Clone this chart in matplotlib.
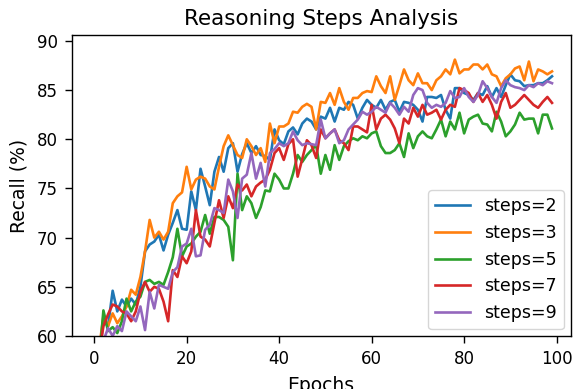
import matplotlib
matplotlib.use("Agg")
import matplotlib.pyplot as plt
import numpy as np

epochs = list(range(1, 100))

steps2 = [57.5, 61.5, 61.0, 64.6, 62.5, 63.7, 63.0, 63.8, 63.2, 65.0,
          68.6, 69.3, 69.6, 70.3, 68.7, 70.3, 71.5, 72.8, 70.9, 70.8,
          74.7, 72.8, 77.0, 75.2, 73.3, 76.7, 78.2, 76.7, 79.1, 79.6,
          76.7, 78.5, 79.6, 78.6, 79.3, 78.4, 78.3, 77.9, 81.0, 79.9,
          79.5, 80.8, 81.2, 80.5, 81.6, 82.1, 81.8, 81.0, 82.3, 82.1,
          83.2, 81.8, 83.2, 83.0, 83.8, 83.5, 82.1, 83.2, 84.0, 83.5,
          83.2, 84.0, 83.0, 83.8, 84.0, 82.8, 83.8, 83.7, 83.5, 83.0,
          81.8, 84.3, 84.3, 84.2, 84.5, 83.0, 82.1, 85.2, 85.2, 84.7,
          84.5, 84.0, 84.7, 84.5, 85.4, 84.3, 85.2, 84.3, 85.5, 86.6,
          86.0, 85.9, 85.4, 85.5, 85.5, 85.7, 85.7, 86.0, 86.4]

steps3 = [58.5, 62.0, 61.0, 62.3, 61.3, 62.0, 63.0, 64.7, 64.2, 66.0,
          68.6, 71.8, 70.0, 70.6, 69.8, 70.6, 73.5, 74.2, 74.6, 77.2,
          74.9, 75.9, 76.2, 76.0, 75.2, 74.9, 77.2, 79.3, 80.4, 79.4,
          78.4, 78.1, 80.0, 79.3, 78.4, 79.1, 77.7, 81.6, 79.6, 81.3,
          81.3, 81.6, 82.8, 82.7, 83.3, 83.6, 83.3, 81.0, 83.8, 83.7,
          84.7, 83.5, 85.2, 83.8, 83.0, 84.2, 84.2, 84.7, 84.9, 84.8,
          86.4, 85.4, 84.7, 86.4, 84.0, 85.5, 87.1, 86.0, 85.5, 86.7,
          85.7, 85.7, 85.0, 86.0, 86.4, 87.1, 86.6, 88.1, 86.7, 87.1,
          87.1, 87.6, 87.6, 87.1, 87.6, 86.6, 86.4, 85.4, 86.2, 86.6,
          87.2, 87.4, 86.0, 87.9, 85.9, 87.1, 86.9, 86.6, 86.9]

steps5 = [57.0, 62.6, 60.5, 60.9, 60.3, 61.5, 63.8, 62.5, 63.5, 64.0,
          65.5, 65.7, 65.3, 65.5, 65.2, 66.5, 68.0, 70.9, 68.1, 69.1,
          69.4, 70.1, 70.6, 72.3, 70.4, 72.1, 72.1, 71.8, 71.1, 67.7,
          76.5, 72.8, 74.2, 73.5, 72.0, 73.1, 74.8, 74.7, 76.5, 75.9,
          75.0, 75.0, 76.5, 78.4, 77.7, 78.4, 78.9, 79.4, 76.5, 78.4,
          76.9, 79.4, 77.9, 79.3, 79.8, 80.1, 79.9, 80.3, 80.1, 80.6,
          80.8, 79.3, 78.6, 78.6, 78.9, 79.6, 78.2, 80.6, 79.1, 80.3,
          80.8, 80.3, 80.1, 81.0, 82.0, 80.3, 81.8, 81.0, 82.7, 80.6,
          82.0, 82.3, 82.5, 81.6, 81.5, 80.8, 82.8, 81.8, 80.3, 80.8,
          81.5, 82.7, 82.0, 82.1, 82.1, 80.6, 82.5, 82.5, 81.1]

steps7 = [58.0, 61.0, 62.2, 63.2, 63.0, 62.5, 62.3, 61.5, 62.5, 64.5,
          65.5, 64.5, 65.0, 64.8, 63.5, 61.5, 66.7, 66.0, 68.1, 67.4,
          68.6, 72.8, 70.1, 69.8, 69.1, 71.5, 73.8, 72.0, 74.2, 73.0,
          75.4, 74.8, 75.4, 74.2, 75.2, 75.6, 75.9, 76.9, 78.6, 79.1,
          77.9, 79.5, 80.0, 76.2, 78.0, 79.9, 79.4, 78.1, 81.0, 80.1,
          80.6, 81.0, 79.9, 79.6, 78.9, 81.3, 81.3, 81.0, 80.7, 83.5,
          81.0, 82.1, 82.5, 82.0, 81.1, 79.6, 82.1, 81.6, 83.2, 82.3,
          83.5, 82.5, 82.7, 83.0, 82.0, 83.0, 83.5, 83.3, 85.2, 85.0,
          84.7, 83.8, 84.7, 83.8, 84.5, 83.5, 82.1, 83.8, 84.7, 83.2,
          83.5, 84.0, 84.5, 84.0, 83.5, 83.2, 83.8, 84.3, 83.7]

steps9 = [57.0, 59.5, 60.8, 60.0, 61.0, 60.5, 62.5, 62.0, 61.5, 63.0,
          60.6, 64.5, 62.8, 65.2, 65.0, 64.8, 66.5, 67.0, 69.1, 69.4,
          70.9, 68.1, 68.2, 70.8, 71.3, 73.0, 72.8, 72.5, 75.9, 74.7,
          72.0, 76.0, 76.4, 78.6, 76.0, 77.6, 75.2, 78.6, 79.0, 79.6,
          79.3, 79.6, 80.8, 79.9, 79.4, 79.6, 79.5, 79.4, 82.0, 80.1,
          80.6, 81.0, 79.6, 79.9, 81.0, 81.5, 82.0, 82.8, 82.5, 82.8,
          83.3, 83.0, 82.7, 83.7, 83.2, 82.5, 83.3, 82.8, 84.5, 85.2,
          85.0, 83.7, 83.2, 83.5, 83.3, 83.7, 84.9, 84.2, 84.3, 85.2,
          84.3, 83.8, 84.5, 85.9, 85.2, 84.3, 83.7, 85.2, 86.0, 85.5,
          85.3, 85.2, 85.0, 85.5, 85.3, 85.7, 85.5, 85.9, 85.7]

series = [("steps=2", steps2), ("steps=3", steps3), ("steps=5", steps5),
          ("steps=7", steps7), ("steps=9", steps9)]

plt.rcParams["axes.linewidth"] = 1.0
fig = plt.figure(figsize=(5.76, 3.89), dpi=100)
ax = fig.add_axes([71.5 / 576, 1 - 336 / 389, (570.5 - 71.5) / 576, (336 - 35) / 389])
for label, vals in series:
    ax.plot(epochs, vals, label=label, linewidth=1.9)

ax.set_xlim(-4.9, 103)
ax.set_ylim(60, 90.6)
ax.set_title("Reasoning Steps Analysis", fontsize=15.5, pad=7)
ax.set_xlabel("Epochs", fontsize=13.5, labelpad=6)
ax.set_ylabel("Recall (%)", fontsize=13.5, labelpad=6)
ax.tick_params(labelsize=12, length=5, width=1.0, pad=5)
ax.legend(loc="lower right", fontsize=12.5, borderaxespad=0.4)
fig.savefig("out.png", dpi=100)
